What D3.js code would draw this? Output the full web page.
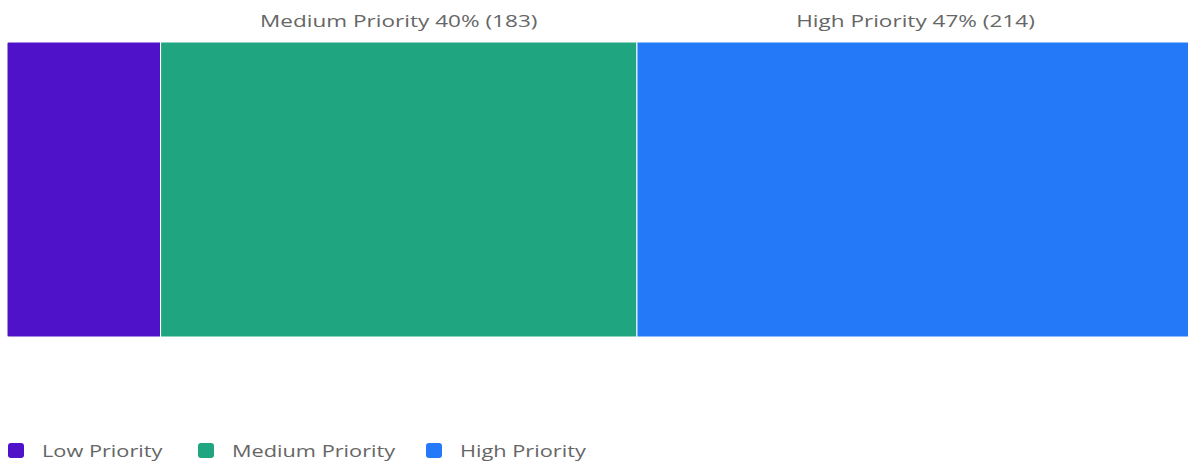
<!DOCTYPE html>
<html>
<head>
<meta charset="utf-8">
<script src="https://cdn.jsdelivr.net/npm/d3@7"></script>
<style>
  body { margin: 0; background: #fff; overflow: hidden; }
  text { font-family: "Open Sans", sans-serif; }
</style>
</head>
<body>
<div id="chart"></div>
<script>
var categories = ["Low Priority", "Medium Priority", "High Priority"];
var counts = [59, 183, 214];
var colors = ["#4f12c8", "#1fa680", "#2379f8"];

var width = 1188, height = 466;
var bar = {top: 42, bottom: 337, left: 7, right: 1194};
var stretch = 1.41;       // reference text is rendered wide
var legendStretch = 1.36;

var svg = d3.select("#chart").append("svg")
    .attr("width", width)
    .attr("height", height);

var total = d3.sum(counts);
var x = d3.scaleLinear().domain([0, total]).range([bar.left, bar.right]);

// stacked offsets
var segs = [], acc = 0;
counts.forEach(function(v, i) {
    segs.push({name: categories[i], value: v, x0: acc, x1: acc + v, color: colors[i]});
    acc += v;
});

svg.append("defs").append("clipPath").attr("id", "barclip")
  .append("rect")
    .attr("x", bar.left).attr("y", bar.top)
    .attr("width", bar.right - bar.left).attr("height", bar.bottom - bar.top)
    .attr("rx", 3);

var g = svg.append("g").attr("clip-path", "url(#barclip)");

g.selectAll("rect.seg")
    .data(segs)
    .enter().append("rect")
    .attr("class", "seg")
    .attr("x", function(d) { return x(d.x0); })
    .attr("y", bar.top)
    .attr("width", function(d) { return x(d.x1) - x(d.x0); })
    .attr("height", bar.bottom - bar.top)
    .attr("fill", function(d) { return d.color; })
    .attr("stroke", "#fff")
    .attr("stroke-width", 1);

// labels above segments (skip ones that are too narrow)
svg.selectAll("g.seglabel")
    .data(segs.filter(function(d) { return x(d.x1) - x(d.x0) > 300; }))
    .enter().append("g")
    .attr("class", "seglabel")
    .attr("transform", function(d) {
        return "translate(" + (x(d.x0) + x(d.x1)) / 2 + ",27) scale(" + stretch + ",1)";
    })
  .append("text")
    .attr("text-anchor", "middle")
    .attr("fill", "#666")
    .style("font-size", "16px")
    .text(function(d) {
        return d.name + " " + Math.round(d.value / total * 100) + "% (" + d.value + ")";
    });

// legend
var legendX = [8, 198, 426];
var legend = svg.selectAll(".legend")
    .data(segs)
    .enter().append("g")
    .attr("class", "legend")
    .attr("transform", function(d, i) { return "translate(" + legendX[i] + ",443)"; });

legend.append("rect")
    .attr("width", 16)
    .attr("height", 15)
    .attr("rx", 3)
    .attr("fill", function(d) { return d.color; });

legend.append("text")
    .attr("transform", "translate(34,14) scale(" + legendStretch + ",1)")
    .attr("fill", "#666")
    .style("font-size", "16px")
    .text(function(d) { return d.name; });
</script>
</body>
</html>
